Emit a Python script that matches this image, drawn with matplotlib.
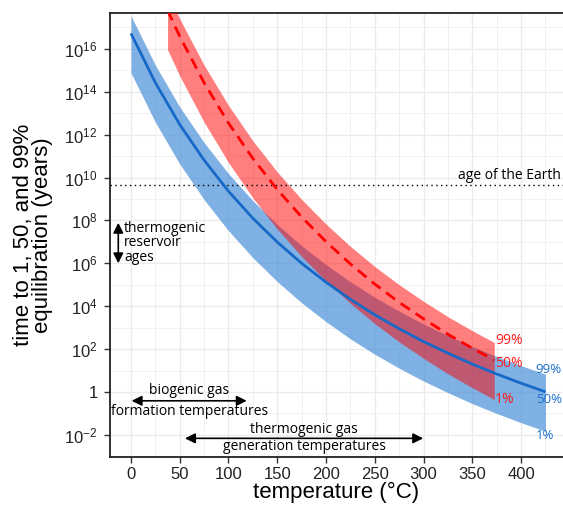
import numpy as np
import matplotlib
matplotlib.use("Agg")
import matplotlib.pyplot as plt

plt.rcParams["font.family"] = ["Liberation Sans", "DejaVu Sans"]
plt.rcParams["mathtext.fontset"] = "custom"
plt.rcParams["mathtext.rm"] = "Liberation Sans"
plt.rcParams["mathtext.it"] = "Liberation Sans:italic"
plt.rcParams["mathtext.bf"] = "Liberation Sans:bold"

NOTE_FONT = ["Open Sans", "DejaVu Sans"]

# blue: 50% line and 1% / 99% band, log10(years)
temp_blue = [0, 25, 50, 75, 100, 125, 150, 175, 200, 225, 250, 275, 300, 325, 350, 375, 400, 425]
blue_50 = [16.72, 14.42, 12.47, 10.81, 9.36, 8.10, 6.99, 6.00, 5.12, 4.32, 3.60, 2.95, 2.35, 1.81, 1.30, 0.84, 0.41, 0.01]
blue_99 = [17.54, 15.24, 13.29, 11.63, 10.18, 8.92, 7.81, 6.82, 5.94, 5.14, 4.42, 3.77, 3.17, 2.63, 2.12, 1.66, 1.23, 0.83]
blue_1 = [14.88, 12.58, 10.63, 8.97, 7.52, 6.26, 5.15, 4.16, 3.28, 2.48, 1.76, 1.11, 0.51, -0.03, -0.54, -1.00, -1.43, -1.83]

# red: dashed 50% line and 1% / 99% band, log10(years)
temp_red = [37.5, 50, 75, 100, 125, 150, 175, 200, 225, 250, 275, 300, 325, 350, 372.5]
red_50 = [17.80, 16.58, 14.42, 12.54, 10.89, 9.44, 8.16, 7.01, 5.97, 5.03, 4.18, 3.41, 2.69, 2.04, 1.49]
red_99 = [18.62, 17.40, 15.24, 13.36, 11.71, 10.26, 8.98, 7.83, 6.79, 5.85, 5.00, 4.23, 3.51, 2.86, 2.31]
red_1 = [15.96, 14.74, 12.58, 10.70, 9.05, 7.60, 6.32, 5.17, 4.13, 3.19, 2.34, 1.57, 0.85, 0.20, -0.35]

age_earth = 4.54e9

x_ticks = [0, 50, 100, 150, 200, 250, 300, 350, 400]
y_exps = [-2, 0, 2, 4, 6, 8, 10, 12, 14, 16]
y_labels = [r"$\mathregular{10^{-2}}$", "1"] + [r"$\mathregular{10^{%d}}$" % e for e in y_exps[2:]]

def yrs(v):
    return 10.0 ** np.array(v)

fig = plt.figure(figsize=(5.63, 5.05), dpi=100)
ax = fig.add_axes([110 / 563, 48 / 505, 453 / 563, 444 / 505])

ax.fill_between(temp_blue, yrs(blue_1), yrs(blue_99), color="#4a90d9", alpha=0.7, lw=0, zorder=2)
ax.fill_between(temp_red, yrs(red_1), yrs(red_99), color="#ff0000", alpha=0.5, lw=0, zorder=3)
ax.plot(temp_blue, yrs(blue_50), color="#1769c8", lw=2.0, zorder=4, solid_capstyle="butt")
ax.plot(temp_red, yrs(red_50), color="#ff0000", lw=2.0, dashes=(4, 2.5), zorder=5)

ax.axhline(age_earth, color="black", lw=1.0, ls=(0, (1, 2.5)), zorder=3)

ax.set_yscale("log")
ax.set_xlim(-21.5, 443)
ax.set_ylim(10 ** -3.03, 10 ** 17.67)

ax.set_xticks(x_ticks)
ax.set_xticks([25, 75, 125, 175, 225, 275, 325, 375, 425], minor=True)
ax.set_yticks([10.0 ** e for e in y_exps])
ax.set_yticklabels(y_labels)
ax.set_yticks([10.0 ** e for e in range(-3, 18, 2)], minor=True)
ax.yaxis.set_minor_formatter(plt.NullFormatter())

ax.grid(which="major", color="#ebebeb", lw=1.0, zorder=0)
ax.grid(which="minor", color="#f1f1f1", lw=0.7, zorder=0)
ax.set_axisbelow(True)

ax.tick_params(which="major", length=4, width=1, color="#333333", labelsize=12, labelcolor="#222222")
ax.tick_params(axis="x", pad=3)
ax.tick_params(axis="y", pad=5)
ax.tick_params(which="minor", length=0)

for s in ["left", "bottom", "top"]:
    ax.spines[s].set_color("#222222")
    ax.spines[s].set_linewidth(1.3)
ax.spines["right"].set_visible(False)

ax.set_xlabel("temperature (°C)", fontsize=16)
ax.xaxis.set_label_coords(0.5, -0.056)
ax.set_ylabel("time to 1, 50, and 99%\nequilibration (years)", fontsize=16, linespacing=0.85)
ax.yaxis.set_label_coords(-0.126, 0.5)

# notes
ax.text(441, 10 ** 9.94, "age of the Earth", ha="right", va="baseline", fontsize=10, family=NOTE_FONT)

arrow = dict(arrowstyle="<|-|>", color="black", lw=1.2, mutation_scale=15, shrinkA=0, shrinkB=0)
ax.annotate("", xy=(-13, 10 ** 7.89), xytext=(-13, 10 ** 6.0), arrowprops=arrow)
ax.text(-7, 10 ** 6.96, "thermogenic\nreservoir\nages", ha="left", va="center", fontsize=10,
        linespacing=0.95, family=NOTE_FONT)

ax.annotate("", xy=(118.7, 10 ** -0.41), xytext=(0.7, 10 ** -0.41), arrowprops=arrow)
ax.text(60, 10 ** 0.06, "biogenic gas", ha="center", va="center", fontsize=10, family=NOTE_FONT)
ax.text(60, 10 ** -0.92, "formation temperatures", ha="center", va="center", fontsize=10, family=NOTE_FONT)

ax.annotate("", xy=(299.6, 10 ** -2.16), xytext=(55.4, 10 ** -2.16), arrowprops=arrow)
ax.text(177.5, 10 ** -1.77, "thermogenic gas", ha="center", va="center", fontsize=10, family=NOTE_FONT)
ax.text(177.5, 10 ** -2.52, "generation temperatures", ha="center", va="center", fontsize=10, family=NOTE_FONT)

# end labels
for txt, e in [("99%", 2.39), ("50%", 1.31), ("1%", -0.33)]:
    ax.text(373.5, 10 ** e, txt, color="#ff1a1a", ha="left", va="center", fontsize=10, family=NOTE_FONT)
for txt, e in [("99%", 1.07), ("50%", -0.33), ("1%", -2.05)]:
    ax.text(415, 10 ** e, txt, color="#1a6fd0", ha="left", va="center", fontsize=9.5, family=NOTE_FONT)

fig.savefig("out.png", dpi=100)
